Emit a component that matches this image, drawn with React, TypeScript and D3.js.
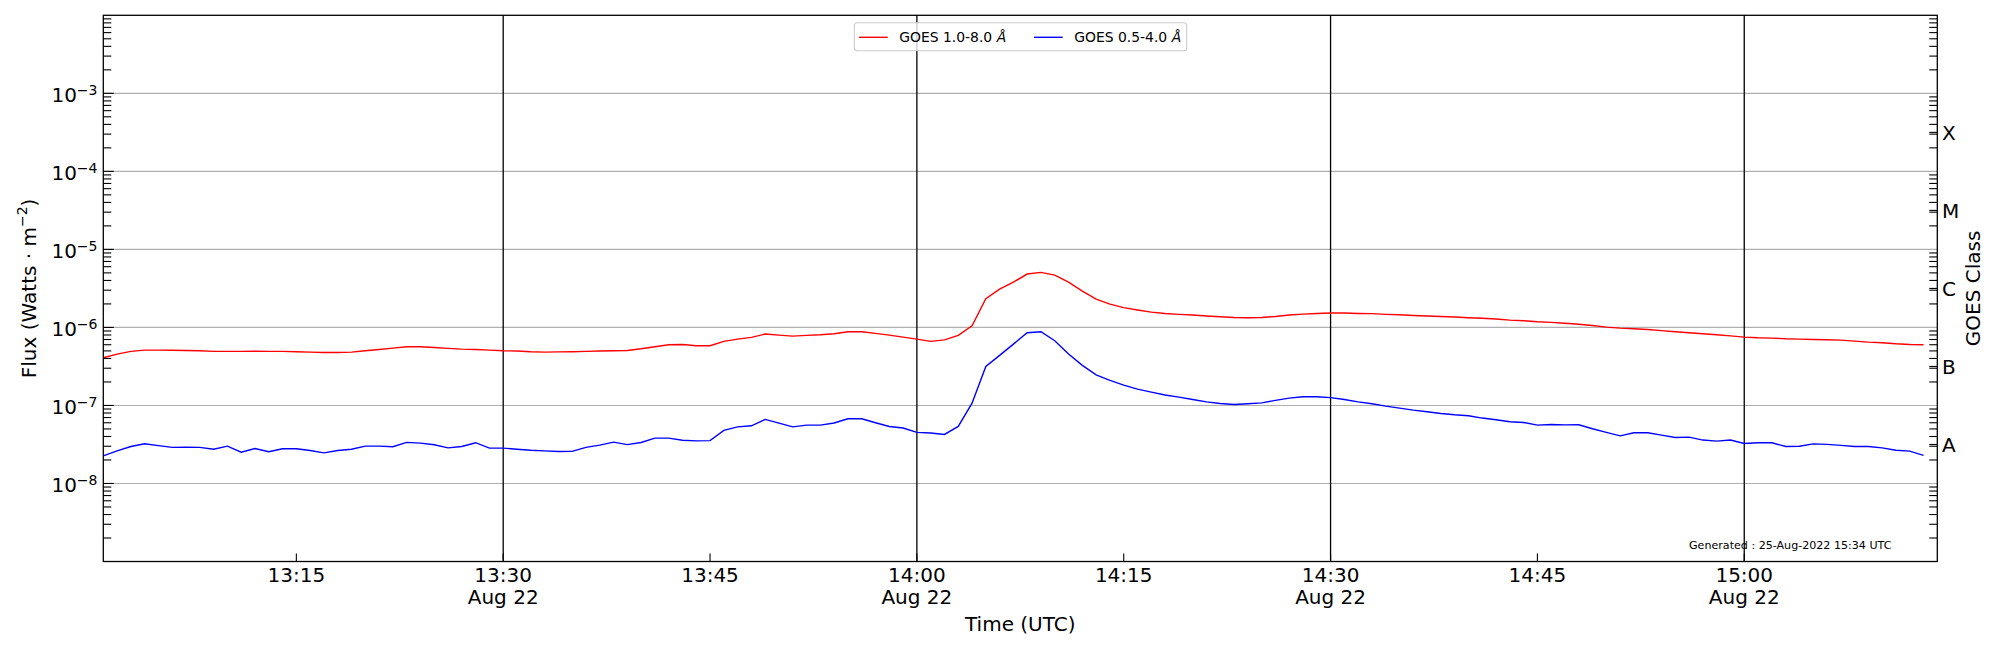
import React from 'react';
import * as d3 from 'd3';

// GOES XRS 1-minute flux, 22 Aug 2022, starting 13:01 UTC
const goesLong: number[] = [
  4.08e-7, 4.55e-7, 4.93e-7, 5.12e-7, 5.12e-7, 5.1e-7, 5.07e-7, 5.02e-7, 4.93e-7, 4.93e-7,
  4.93e-7, 4.95e-7, 4.93e-7, 4.93e-7, 4.88e-7, 4.83e-7, 4.78e-7, 4.78e-7, 4.83e-7, 5.02e-7,
  5.22e-7, 5.43e-7, 5.65e-7, 5.65e-7, 5.54e-7, 5.38e-7, 5.27e-7, 5.22e-7, 5.12e-7, 5.02e-7,
  4.98e-7, 4.88e-7, 4.83e-7, 4.86e-7, 4.88e-7, 4.93e-7, 4.98e-7, 5.02e-7, 5.07e-7, 5.32e-7,
  5.65e-7, 6.0e-7, 6.05e-7, 5.82e-7, 5.82e-7, 6.62e-7, 7.08e-7, 7.44e-7, 8.22e-7, 7.97e-7,
  7.74e-7, 7.9e-7, 8.05e-7, 8.3e-7, 8.8e-7, 8.8e-7, 8.4e-7, 7.97e-7, 7.5e-7, 7.08e-7,
  6.62e-7, 6.93e-7, 7.9e-7, 1.05e-6, 2.33e-6, 3.1e-6, 3.81e-6, 4.83e-6, 5.07e-6, 4.69e-6,
  3.81e-6, 2.92e-6, 2.31e-6, 1.99e-6, 1.79e-6, 1.67e-6, 1.57e-6, 1.51e-6, 1.47e-6, 1.44e-6,
  1.4e-6, 1.37e-6, 1.34e-6, 1.33e-6, 1.34e-6, 1.38e-6, 1.44e-6, 1.48e-6, 1.51e-6, 1.53e-6,
  1.53e-6, 1.51e-6, 1.5e-6, 1.47e-6, 1.45e-6, 1.42e-6, 1.4e-6, 1.38e-6, 1.36e-6, 1.33e-6,
  1.31e-6, 1.28e-6, 1.24e-6, 1.22e-6, 1.18e-6, 1.16e-6, 1.13e-6, 1.1e-6, 1.06e-6, 1.01e-6,
  9.8e-7, 9.6e-7, 9.4e-7, 9.1e-7, 8.8e-7, 8.55e-7, 8.3e-7, 8.05e-7, 7.8e-7, 7.51e-7,
  7.37e-7, 7.3e-7, 7.15e-7, 7.08e-7, 7.0e-7, 6.94e-7, 6.88e-7, 6.68e-7, 6.48e-7, 6.36e-7,
  6.17e-7, 6.05e-7, 5.99e-7,
];

const goesShort: number[] = [
  2.26e-8, 2.62e-8, 2.98e-8, 3.23e-8, 3.06e-8, 2.9e-8, 2.92e-8, 2.9e-8, 2.75e-8, 3.01e-8,
  2.52e-8, 2.81e-8, 2.55e-8, 2.78e-8, 2.78e-8, 2.65e-8, 2.47e-8, 2.65e-8, 2.75e-8, 3.01e-8,
  3.01e-8, 2.96e-8, 3.36e-8, 3.29e-8, 3.13e-8, 2.86e-8, 2.98e-8, 3.33e-8, 2.84e-8, 2.84e-8,
  2.75e-8, 2.67e-8, 2.62e-8, 2.57e-8, 2.58e-8, 2.9e-8, 3.1e-8, 3.39e-8, 3.15e-8, 3.35e-8,
  3.81e-8, 3.81e-8, 3.58e-8, 3.52e-8, 3.54e-8, 4.79e-8, 5.32e-8, 5.49e-8, 6.62e-8, 5.94e-8,
  5.32e-8, 5.6e-8, 5.6e-8, 5.95e-8, 6.75e-8, 6.75e-8, 6.0e-8, 5.37e-8, 5.13e-8, 4.51e-8,
  4.44e-8, 4.25e-8, 5.38e-8, 1.07e-7, 3.16e-7, 4.38e-7, 6.11e-7, 8.55e-7, 8.8e-7, 6.75e-7,
  4.55e-7, 3.26e-7, 2.47e-7, 2.09e-7, 1.82e-7, 1.62e-7, 1.48e-7, 1.36e-7, 1.28e-7, 1.19e-7,
  1.11e-7, 1.06e-7, 1.03e-7, 1.05e-7, 1.08e-7, 1.16e-7, 1.24e-7, 1.29e-7, 1.29e-7, 1.26e-7,
  1.19e-7, 1.11e-7, 1.05e-7, 9.8e-8, 9.24e-8, 8.7e-8, 8.3e-8, 7.9e-8, 7.59e-8, 7.37e-8,
  6.89e-8, 6.55e-8, 6.18e-8, 6.05e-8, 5.6e-8, 5.7e-8, 5.63e-8, 5.65e-8, 5.02e-8, 4.51e-8,
  4.08e-8, 4.46e-8, 4.46e-8, 4.17e-8, 3.89e-8, 3.93e-8, 3.6e-8, 3.49e-8, 3.6e-8, 3.26e-8,
  3.33e-8, 3.33e-8, 2.98e-8, 3.0e-8, 3.22e-8, 3.17e-8, 3.08e-8, 2.98e-8, 2.98e-8, 2.86e-8,
  2.67e-8, 2.6e-8, 2.29e-8,
];

const classValues = [3.16e-8, 3.16e-7, 3.16e-6, 3.16e-5, 3.16e-4];
const classLabels = ['A', 'B', 'C', 'M', 'X'];
const labelledExps = [-8, -7, -6, -5, -4, -3];

const startTime = new Date(Date.UTC(2022, 7, 22, 13, 1));
const endTime = new Date(Date.UTC(2022, 7, 22, 15, 14));
const times = goesLong.map((_, i) => d3.utcMinute.offset(startTime, i));

const W = 2000;
const H = 650;
const left = 103.3;
const right = 1937.3;
const top = 15.3;
const bottom = 561.5;
const FONT = 'DejaVu Sans, sans-serif';

const App: React.FC = () => {
  const x = d3.scaleUtc().domain([startTime, endTime]).range([left, right]);
  const y = d3.scaleLog().domain([1e-9, 1e-2]).range([bottom, top]);

  const line = d3
    .line<number>()
    .x((_, i) => x(times[i]))
    .y((d) => y(d));

  const xTicks = x.ticks(d3.utcMinute.every(15)!);
  const halfHours = x.ticks(d3.utcMinute.every(30)!);
  const fmt = d3.utcFormat('%H:%M');
  const dayFmt = d3.utcFormat('%b %d');

  const logTicks = y.ticks().filter((t) => t > 1e-9 && t < 1e-2);
  const isMajor = (t: number) => Math.abs(Math.log10(t) - Math.round(Math.log10(t))) < 1e-6;

  return (
    <svg
      width={W}
      height={H}
      style={{ position: 'absolute', left: 0, top: 0, background: '#fff' }}
      fontFamily={FONT}
    >
      <defs>
        <clipPath id="plot">
          <rect x={left} y={top} width={right - left} height={bottom - top} />
        </clipPath>
      </defs>
      <rect x={0} y={0} width={W} height={H} fill="#fff" />

      {/* horizontal grid at decades */}
      {labelledExps.map((e) => (
        <line key={e} x1={left} x2={right} y1={y(10 ** e)} y2={y(10 ** e)} stroke="#b0b0b0" strokeWidth={1.1} />
      ))}

      {/* vertical lines every half hour */}
      {halfHours.map((t) => (
        <line key={+t} x1={x(t)} x2={x(t)} y1={top} y2={bottom} stroke="#000" strokeWidth={1.3} />
      ))}

      <g clipPath="url(#plot)" fill="none" strokeWidth={1.4}>
        <path d={line(goesLong) || ''} stroke="#ff0000" />
        <path d={line(goesShort) || ''} stroke="#0000ff" />
      </g>

      {/* left axis ticks */}
      {logTicks.map((t, i) => (
        <line key={'l' + i} x1={left} x2={left + (isMajor(t) ? 10.5 : 8)} y1={y(t)} y2={y(t)} stroke="#000" strokeWidth={1.1} />
      ))}
      {/* right axis ticks */}
      {logTicks.filter((t) => !isMajor(t)).map((t, i) => (
        <line key={'r' + i} x1={right} x2={right - 8} y1={y(t)} y2={y(t)} stroke="#000" strokeWidth={1.1} />
      ))}
      {classValues.map((v) => (
        <line key={'c' + v} x1={right} x2={right - 8} y1={y(v)} y2={y(v)} stroke="#000" strokeWidth={1.1} />
      ))}
      {/* bottom ticks */}
      {xTicks.map((t) => (
        <line key={'b' + +t} x1={x(t)} x2={x(t)} y1={bottom} y2={bottom - 8} stroke="#000" strokeWidth={1.1} />
      ))}

      <rect x={left} y={top} width={right - left} height={bottom - top} fill="none" stroke="#000" strokeWidth={1.3} />

      {/* left tick labels */}
      {labelledExps.map((e) => (
        <text key={'yl' + e} x={97.5} y={y(10 ** e) + 8.4} textAnchor="end" fontSize={20} fill="#000">
          10
          <tspan dy={-6.7} fontSize={14}>
            {'\u2212' + Math.abs(e)}
          </tspan>
        </text>
      ))}

      {/* class labels */}
      {classValues.map((v, i) => (
        <text key={'cl' + v} x={1942} y={y(v) + 7.3} fontSize={20} fill="#000">
          {classLabels[i]}
        </text>
      ))}

      {/* x tick labels */}
      {xTicks.map((t) => {
        const second = t.getUTCMinutes() % 30 === 0;
        return (
          <g key={'xl' + +t}>
            <text x={x(t)} y={582.3} textAnchor="middle" fontSize={20} fill="#000">
              {fmt(t)}
            </text>
            {second && (
              <text x={x(t)} y={604.3} textAnchor="middle" fontSize={20} fill="#000">
                {dayFmt(t)}
              </text>
            )}
          </g>
        );
      })}

      <text x={(left + right) / 2} y={630.7} textAnchor="middle" fontSize={20} fill="#000">
        Time (UTC)
      </text>

      <text
        transform={`translate(28.5,${(top + bottom) / 2}) rotate(-90)`}
        textAnchor="middle"
        dominantBaseline="central"
        fontSize={20}
        fill="#000"
      >
        Flux (Watts · m
        <tspan dy={-7} fontSize={14}>
          {'\u22122'}
        </tspan>
        <tspan dy={7}>)</tspan>
      </text>

      <text
        transform={`translate(1972.8,${(top + bottom) / 2}) rotate(-90)`}
        textAnchor="middle"
        dominantBaseline="central"
        fontSize={20}
        fill="#000"
      >
        GOES Class
      </text>

      <text x={1689} y={548.5} fontSize={11.1} fill="#000">
        Generated : 25-Aug-2022 15:34 UTC
      </text>

      {/* legend */}
      <g>
        <rect x={854.3} y={22.7} width={332.4} height={28} rx={3} fill="#fff" fillOpacity={0.8} stroke="#cccccc" strokeWidth={1.1} />
        <line x1={859} x2={887.7} y1={37.3} y2={37.3} stroke="#ff0000" strokeWidth={1.4} />
        <text x={899.3} y={41.7} fontSize={13.9} fill="#000">
          GOES 1.0-8.0 <tspan fontStyle="italic">Å</tspan>
        </text>
        <line x1={1034} x2={1062.7} y1={37.3} y2={37.3} stroke="#0000ff" strokeWidth={1.4} />
        <text x={1074.3} y={41.7} fontSize={13.9} fill="#000">
          GOES 0.5-4.0 <tspan fontStyle="italic">Å</tspan>
        </text>
      </g>
    </svg>
  );
};

export default App;
